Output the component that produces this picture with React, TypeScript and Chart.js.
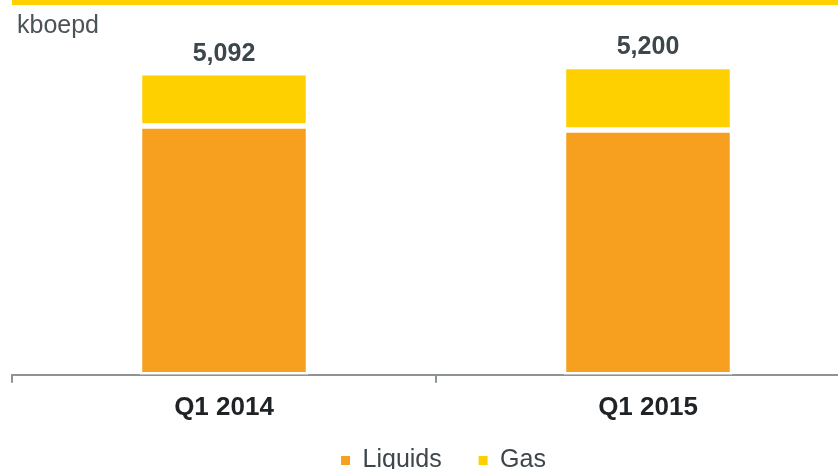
import React, { useEffect, useRef } from "react";
import { Chart, registerables } from "chart.js";

Chart.register(...registerables);

const categories = ["Q1 2014", "Q1 2015"];
const liquids = [4195, 4130];
const gas = [897, 1070];
const totals = [5092, 5200];
const totalLabels = ["5,092", "5,200"];
const unitLabel = "kboepd";
const seriesNames = ["Liquids", "Gas"];

const FONT = "'Liberation Sans', Arial, sans-serif";
const ORANGE = "#F7A01F";
const YELLOW = "#FFD000";
const TEXT = "#3C464B";

const decorPlugin = {
  id: "decor",
  afterDraw(chart: any) {
    const ctx = chart.ctx;
    const y = chart.scales.y;
    const x = chart.scales.x;
    ctx.save();
    ctx.fillStyle = "#FFD100";
    ctx.fillRect(12, 0, chart.width - 12, 5);
    ctx.fillStyle = "#4A5358";
    ctx.font = `25px ${FONT}`;
    ctx.textAlign = "left";
    ctx.textBaseline = "alphabetic";
    ctx.fillText(unitLabel, 17, 33);
    ctx.fillStyle = TEXT;
    ctx.font = `bold 25px ${FONT}`;
    ctx.textAlign = "center";
    ctx.textBaseline = "middle";
    totals.forEach((t, i) => {
      ctx.fillText(totalLabels[i], x.getPixelForValue(i), y.getPixelForValue(t) - 19);
    });
    ctx.restore();
  },
};

export default function App() {
  const ref = useRef<HTMLCanvasElement | null>(null);
  useEffect(() => {
    if (!ref.current) return;
    const barStyle = {
      borderColor: "#FFFFFF",
      borderWidth: 2.75,
      borderSkipped: false,
      inflateAmount: 0,
      categoryPercentage: 1,
      barPercentage: 0.3986,
    };
    const chart = new Chart(ref.current, {
      type: "bar",
      data: {
        labels: categories,
        datasets: [
          { label: seriesNames[0], data: liquids, backgroundColor: ORANGE, ...barStyle },
          { label: seriesNames[1], data: gas, backgroundColor: YELLOW, ...barStyle },
        ],
      },
      options: {
        responsive: false,
        animation: false,
        layout: { padding: { left: 12, right: 10, top: 19, bottom: 0 } },
        scales: {
          x: {
            stacked: true,
            grid: {
              display: true,
              drawOnChartArea: false,
              drawTicks: true,
              tickLength: 8,
              color: "#8E9393",
              lineWidth: 2,
              offset: true,
            },
            border: { display: true, color: "#8E9393", width: 2 },
            ticks: {
              padding: 9,
              color: "#1F2326",
              font: { family: FONT, size: 26, weight: "bold" },
            },
          },
          y: {
            stacked: true,
            display: true,
            position: "right",
            min: 0,
            max: 6000,
            ticks: { display: false },
            grid: { display: false },
            border: { display: false },
            afterFit: (s: any) => {
              s.width = 15;
            },
          },
        },
        plugins: {
          tooltip: { enabled: false },
          title: { display: false },
          legend: {
            display: true,
            position: "bottom",
            labels: {
              usePointStyle: true,
              pointStyle: "rect",
              boxWidth: 9,
              boxHeight: 9,
              padding: 16,
              color: TEXT,
              font: { family: FONT, size: 25 },
              generateLabels: (c: any) =>
                Chart.defaults.plugins.legend.labels
                  .generateLabels(c)
                  .map((it: any, i: number) => ({
                    ...it,
                    text: i === 0 ? it.text + "   " : it.text,
                    lineWidth: 0,
                    strokeStyle: "rgba(0,0,0,0)",
                  })),
            },
          },
        },
      },
      plugins: [decorPlugin],
    } as any);
    return () => chart.destroy();
  }, []);

  return (
    <div
      style={{
        position: "fixed",
        left: 0,
        top: 0,
        width: 838,
        height: 469,
        overflow: "hidden",
        background: "#FFFFFF",
      }}
    >
      <canvas ref={ref} width={885} height={483} style={{ display: "block" }} />
    </div>
  );
}
